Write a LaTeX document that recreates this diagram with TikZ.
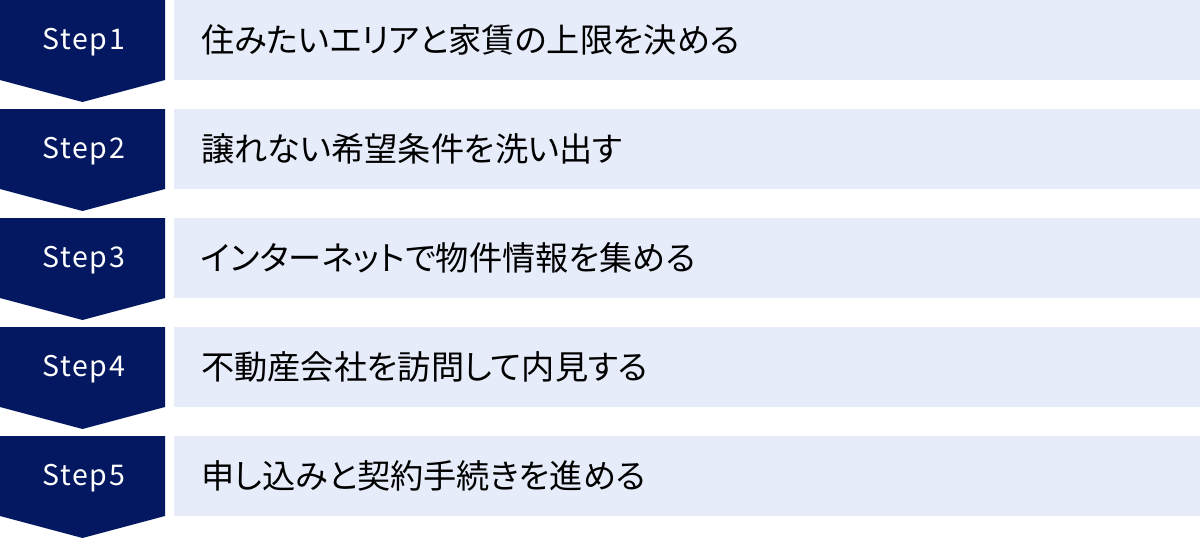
\documentclass[tikz,border=0pt]{standalone}
\usepackage{fontspec}
\newfontfamily\jpfont[RawFeature=+palt]{Noto Sans CJK JP}
\newfontfamily\stepfont[LetterSpace=6]{Noto Sans CJK JP}
\definecolor{stepnavy}{RGB}{3,24,96}
\definecolor{rowblue}{RGB}{230,236,250}
\tikzset{
  stepshape/.style={fill=stepnavy},
  steplabel/.style={text=white, inner sep=0pt, font=\stepfont\fontsize{28.5}{28.5}\selectfont},
  rowbox/.style={fill=rowblue, anchor=north west, inner sep=0pt,
    minimum width=1026pt, minimum height=80pt},
  rowtext/.style={anchor=west, inner sep=0pt, font=\jpfont\fontsize{33.2}{33.2}\selectfont}
}
\begin{document}
\begin{tikzpicture}[x=1pt, y=-1pt]
   \useasboundingbox (0,0) rectangle (1200,538);
   % step 1
   \fill[stepshape] (0,0)--(165,0)--(165,80)--(82.5,102)--(0,80)--cycle;
   \node[steplabel] (s1) at (83.5,42) {Step1};
   \node[rowbox] (b1) at (174,0) {};
   \node[rowtext] (t1) at ([xshift=27pt]b1.west) {住みたいエリアと家賃の上限を決める};
   % step 2
   \fill[stepshape] (0,109)--(165,109)--(165,189)--(82.5,211)--(0,189)--cycle;
   \node[steplabel] (s2) at (83.5,151) {Step2};
   \node[rowbox] (b2) at (174,109) {};
   \node[rowtext] (t2) at ([xshift=27pt]b2.west) {譲れない希望条件を洗い出す};
   % step 3
   \fill[stepshape] (0,218)--(165,218)--(165,298)--(82.5,320)--(0,298)--cycle;
   \node[steplabel] (s3) at (83.5,260) {Step3};
   \node[rowbox] (b3) at (174,218) {};
   \node[rowtext] (t3) at ([xshift=27pt]b3.west) {インターネットで物件情報を集める};
   % step 4
   \fill[stepshape] (0,327)--(165,327)--(165,407)--(82.5,429)--(0,407)--cycle;
   \node[steplabel] (s4) at (83.5,369) {Step4};
   \node[rowbox] (b4) at (174,327) {};
   \node[rowtext] (t4) at ([xshift=27pt]b4.west) {不動産会社を訪問して内見する};
   % step 5
   \fill[stepshape] (0,436)--(165,436)--(165,516)--(82.5,538)--(0,516)--cycle;
   \node[steplabel] (s5) at (83.5,478) {Step5};
   \node[rowbox] (b5) at (174,436) {};
   \node[rowtext] (t5) at ([xshift=27pt]b5.west) {申し込みと契約手続きを進める};
\end{tikzpicture}
\end{document}
